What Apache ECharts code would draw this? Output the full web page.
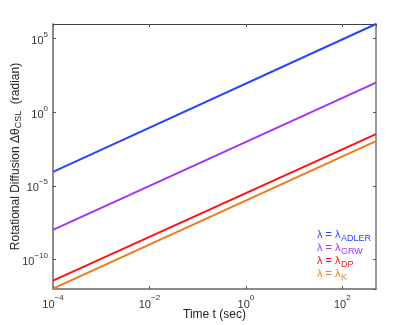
<!DOCTYPE html>
<html>
<head>
<meta charset="utf-8">
<script src="https://cdn.jsdelivr.net/npm/echarts@6/dist/echarts.min.js"></script>
<style>
  html, body { margin: 0; padding: 0; background: #fff; }
  #chart { width: 415px; height: 325px; }
</style>
</head>
<body>
<div id="chart"></div>
<script>
// time (sec) at the two ends of each line
const timeData = [1e-4, 500]
// rotational diffusion (radian)
const adlerData = [9e-5, 1e6]
const grwData = [1.05e-8, 1.05e2]
const dpData = [3.7e-12, 3.3e-2]
const kData = [1.05e-12, 1.1e-2]

const seriesNames = ['ADLER', 'GRW', 'DP', 'K']
const seriesColors = ['#2a44ff', '#a335fa', '#fa1414', '#f07a1a']
const seriesValues = [adlerData, grwData, dpData, kData]

const fontFamily = 'Liberation Sans, Arial, sans-serif'

function powLabel(value) {
  const e = Math.round(Math.log10(value))
  return '{b|10}{sup|' + (e < 0 ? '\u2212' + (-e) : e) + '}'
}

const labelRich = {
  b: { fontSize: 11, color: '#333', fontFamily: fontFamily, lineHeight: 16, verticalAlign: 'bottom' },
  sup: { fontSize: 8, color: '#333', fontFamily: fontFamily, lineHeight: 16, verticalAlign: 'top', padding: [0, 0, 6, 0] }
}

const chart = echarts.init(document.getElementById('chart'))

const options = {
  animation: false,
  grid: {
    left: 53,
    right: 39,
    top: 24,
    bottom: 36,
    containLabel: false,
    outerBoundsMode: 'none'
  },
  xAxis: [
    {
      type: 'log',
      logBase: 100,
      min: 1e-4,
      max: 500,
      name: 'Time t (sec)',
      nameLocation: 'middle',
      nameGap: 20,
      nameMoveOverlap: false,
      nameTextStyle: { fontSize: 12, color: '#222', fontFamily: fontFamily },
      axisLine: { lineStyle: { color: '#8c8c8c', width: 2 } },
      axisTick: { inside: true, length: 3, lineStyle: { color: '#555' } },
      minorTick: { show: false },
      splitLine: { show: false },
      axisLabel: {
        formatter: powLabel,
        rich: labelRich,
        margin: 5,
        showMaxLabel: false
      }
    },
    {
      type: 'log',
      logBase: 100,
      min: 1e-4,
      max: 500,
      position: 'top',
      axisLine: { lineStyle: { color: '#404040', width: 1 } },
      axisTick: { inside: true, length: 3, lineStyle: { color: '#555' } },
      splitLine: { show: false },
      axisLabel: { show: false }
    }
  ],
  yAxis: [
    {
      type: 'log',
      logBase: 100000,
      min: 1e-12,
      max: 1e6,
      name: 'Rotational Diffusion \u0394\u03b8{sub|CSL}  (radian)',
      nameLocation: 'middle',
      nameGap: 30,
      nameMoveOverlap: false,
      nameTextStyle: {
        fontSize: 12,
        color: '#222',
        fontFamily: fontFamily,
        rich: {
          sub: { fontSize: 9, color: '#222', fontFamily: fontFamily, verticalAlign: 'bottom', padding: [6, 0, 0, 0] }
        }
      },
      axisLine: { lineStyle: { color: '#8c8c8c', width: 2 } },
      axisTick: { inside: true, length: 3, lineStyle: { color: '#555' } },
      minorTick: { show: false },
      splitLine: { show: false },
      axisLabel: {
        formatter: powLabel,
        rich: labelRich,
        margin: 5,
        showMinLabel: false,
        showMaxLabel: false
      }
    },
    {
      type: 'log',
      logBase: 100000,
      min: 1e-12,
      max: 1e6,
      position: 'right',
      axisLine: { lineStyle: { color: '#999', width: 2 } },
      axisTick: { inside: true, length: 3, lineStyle: { color: '#555' } },
      splitLine: { show: false },
      axisLabel: { show: false }
    }
  ],
  series: seriesValues.map((vals, i) => ({
    name: seriesNames[i],
    type: 'line',
    symbol: 'none',
    data: timeData.map((t, j) => [t, vals[j]]),
    lineStyle: { color: seriesColors[i], width: 2 },
    itemStyle: { color: seriesColors[i] }
  })),
  graphic: []
}

// legend-like labels, lower right inside the plot
seriesNames.forEach((n, i) => {
  const y = 229 + i * 13
  options.graphic.push({
    type: 'text',
    left: 317,
    top: y,
    style: { text: '\u03bb = \u03bb', fill: seriesColors[i], fontSize: 11, fontFamily: fontFamily }
  })
  options.graphic.push({
    type: 'text',
    left: 341,
    top: y + 5,
    style: { text: n, fill: seriesColors[i], fontSize: 9, fontFamily: fontFamily }
  })
})

chart.setOption(options, true)
</script>
</body>
</html>
